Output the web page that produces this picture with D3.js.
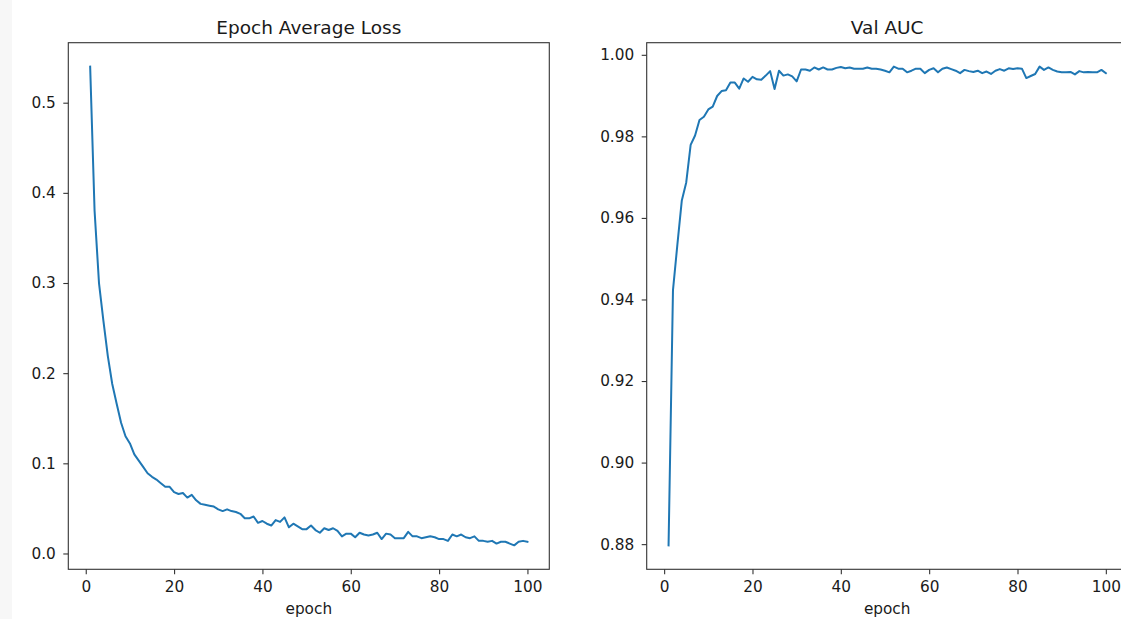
<!DOCTYPE html>
<html>
<head>
<meta charset="utf-8">
<script src="https://cdn.jsdelivr.net/npm/d3@7"></script>
<style>
  body { margin: 0; background: #fff; }
  text { font-family: "DejaVu Sans", sans-serif; fill: #1a1a1a; }
  .tick line { stroke: #333; stroke-width: 1.1; }
  .domain { display: none; }
</style>
</head>
<body>
<script>
// epochs 1..100
var epochs = d3.range(1, 101);

// epoch average loss
var lossValues = [
  0.540, 0.380, 0.300, 0.258, 0.219, 0.188, 0.166, 0.145, 0.130, 0.122,
  0.110, 0.103, 0.096, 0.089, 0.085, 0.082, 0.078, 0.074, 0.074, 0.068,
  0.066, 0.067, 0.062, 0.065, 0.059, 0.055, 0.054, 0.053, 0.052, 0.049,
  0.047, 0.049, 0.047, 0.046, 0.044, 0.039, 0.039, 0.041, 0.034, 0.036,
  0.033, 0.031, 0.037, 0.035, 0.040, 0.029, 0.033, 0.030, 0.027, 0.027,
  0.031, 0.026, 0.023, 0.028, 0.026, 0.028, 0.025, 0.019, 0.022, 0.022,
  0.018, 0.023, 0.021, 0.020, 0.021, 0.023, 0.016, 0.022, 0.021, 0.017,
  0.017, 0.017, 0.024, 0.019, 0.019, 0.017, 0.018, 0.019, 0.018, 0.016,
  0.016, 0.014, 0.021, 0.019, 0.021, 0.018, 0.017, 0.019, 0.014, 0.014,
  0.013, 0.014, 0.011, 0.013, 0.013, 0.011, 0.009, 0.013, 0.014, 0.013
];

// validation AUC
var aucValues = [
  0.8797, 0.9423, 0.9535, 0.9643, 0.9687, 0.9779, 0.9802, 0.9840, 0.9848, 0.9866,
  0.9873, 0.9899, 0.9911, 0.9913, 0.9932, 0.9932, 0.9917, 0.9942, 0.9934, 0.9946,
  0.9940, 0.9939, 0.9949, 0.9960, 0.9916, 0.9961, 0.9949, 0.9952, 0.9947, 0.9935,
  0.9964, 0.9964, 0.9961, 0.9969, 0.9964, 0.9969, 0.9964, 0.9964, 0.9968, 0.9970,
  0.9967, 0.9969, 0.9966, 0.9966, 0.9966, 0.9969, 0.9966, 0.9966, 0.9964, 0.9961,
  0.9957, 0.9971, 0.9966, 0.9966, 0.9957, 0.9961, 0.9966, 0.9966, 0.9955, 0.9963,
  0.9967, 0.9957, 0.9966, 0.9969, 0.9965, 0.9961, 0.9955, 0.9963, 0.9960, 0.9958,
  0.9961, 0.9955, 0.9959, 0.9953, 0.9961, 0.9965, 0.9961, 0.9967, 0.9965, 0.9967,
  0.9966, 0.9943, 0.9948, 0.9953, 0.9971, 0.9963, 0.9969, 0.9963, 0.9959, 0.9957,
  0.9957, 0.9958, 0.9952, 0.9960, 0.9957, 0.9958, 0.9957, 0.9957, 0.9963, 0.9955
];

var xTicks = [0, 20, 40, 60, 80, 100];
var lossTicks = [0.0, 0.1, 0.2, 0.3, 0.4, 0.5];
var aucTicks = [0.88, 0.90, 0.92, 0.94, 0.96, 0.98, 1.00];

var W = 1121, H = 619;

var svg = d3.select("body").append("svg")
    .attr("width", W)
    .attr("height", H);

// faint grey strip on the left edge of the screenshot
svg.append("rect")
    .attr("x", 0).attr("y", 0)
    .attr("width", 12).attr("height", H)
    .attr("fill", "#f7f7f7");

// matplotlib-style auto limits: data range plus 5% each side
function padded(vals) {
    var ext = d3.extent(vals);
    var m = (ext[1] - ext[0]) * 0.05;
    return [ext[0] - m, ext[1] + m];
}

function drawPanel(left, title, values, yTicks, yFmt) {
    var top = 42.7, bottom = 569.3, width = 481;

    var x = d3.scaleLinear().domain(padded(epochs)).range([left, left + width]);
    var y = d3.scaleLinear().domain(padded(values)).range([bottom, top]);

    var data = epochs.map(function(e, i) { return {epoch: e, value: values[i]}; });

    var line = d3.line()
        .x(function(d) { return x(d.epoch); })
        .y(function(d) { return y(d.value); });

    svg.append("path")
        .datum(data)
        .attr("d", line)
        .attr("fill", "none")
        .attr("stroke", "#1f77b4")
        .attr("stroke-width", 2)
        .attr("stroke-linejoin", "round")
        .attr("stroke-linecap", "square");

    // x axis
    svg.append("g")
        .attr("transform", "translate(0," + bottom + ")")
        .call(d3.axisBottom(x).tickValues(xTicks).tickSize(5).tickPadding(7)
            .tickFormat(d3.format("d")))
        .selectAll("text").style("font-size", "15.3px");

    // y axis
    svg.append("g")
        .attr("transform", "translate(" + left + ",0)")
        .call(d3.axisLeft(y).tickValues(yTicks).tickSize(5).tickPadding(7.5)
            .tickFormat(d3.format(yFmt)))
        .selectAll("text").style("font-size", "15.3px");

    // frame
    svg.append("rect")
        .attr("x", left).attr("y", top)
        .attr("width", width).attr("height", bottom - top)
        .attr("fill", "none")
        .attr("stroke", "#333")
        .attr("stroke-width", 1.1);

    svg.append("text")
        .attr("x", left + width / 2)
        .attr("y", 33.5)
        .attr("text-anchor", "middle")
        .style("font-size", "18.5px")
        .text(title);

    svg.append("text")
        .attr("x", left + width / 2)
        .attr("y", 614)
        .attr("text-anchor", "middle")
        .style("font-size", "15.3px")
        .text("epoch");
}

drawPanel(68.3, "Epoch Average Loss", lossValues, lossTicks, ".1f");
drawPanel(646.7, "Val AUC", aucValues, aucTicks, ".2f");
</script>
</body>
</html>
